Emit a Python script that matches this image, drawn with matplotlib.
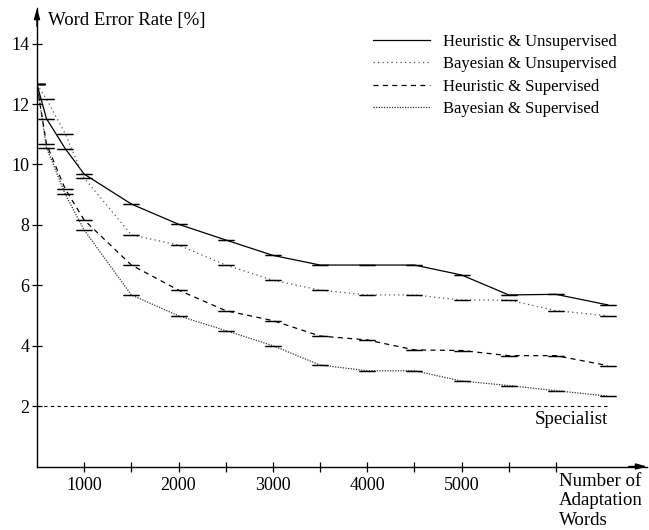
import matplotlib
matplotlib.use("Agg")
import matplotlib.pyplot as plt

plt.rcParams['font.family'] = ['Liberation Serif', 'DejaVu Serif']

words = [500, 600, 800, 1000, 1500, 2000, 2500, 3000, 3500, 4000, 4500, 5000, 5500, 6000, 6550]

heur_unsup = [12.65, 11.52, 10.52, 9.68, 8.69, 8.02, 7.5, 6.99, 6.67, 6.67, 6.67, 6.34, 5.68, 5.70, 5.35]
bayes_unsup = [12.65, 12.17, 11.01, 9.55, 7.67, 7.33, 6.67, 6.17, 5.84, 5.68, 5.68, 5.51, 5.51, 5.16, 4.99]
heur_sup = [12.65, 10.68, 9.18, 8.16, 6.67, 5.84, 5.16, 4.83, 4.32, 4.19, 3.86, 3.84, 3.67, 3.67, 3.34]
bayes_sup = [12.65, 10.56, 9.01, 7.83, 5.68, 4.99, 4.5, 4.0, 3.36, 3.17, 3.17, 2.83, 2.68, 2.51, 2.33]

labels = ["Heuristic & Unsupervised", "Bayesian & Unsupervised",
          "Heuristic & Supervised", "Bayesian & Supervised"]
specialist = 2.0

fig = plt.figure(figsize=(6.49, 5.30), dpi=100)
ax = fig.add_axes([37 / 649, 63.5 / 530, 610 / 649, 458.5 / 530])

styles = [
    dict(color='black', linestyle='-', lw=0.9),
    dict(color='#555555', linestyle=(0, (1, 2.6)), lw=0.9),
    dict(color='black', linestyle=(0, (4, 3.5)), lw=0.9),
    dict(color='#333333', linestyle=(0, (1, 1.1)), lw=0.9),
]
series = [heur_unsup, bayes_unsup, heur_sup, bayes_sup]

handles = []
for ys, st, lab in zip(series, styles, labels):
    ln, = ax.plot(words, ys, label=lab, **st)
    handles.append(ln)
    ax.errorbar(words, ys, yerr=0, fmt='none', ecolor='black', elinewidth=0.8,
                capsize=5.5, capthick=0.9)

ax.plot([words[0], words[-1]], [specialist, specialist], color='black',
        linestyle=(0, (3, 3)), lw=0.8)
ax.text(words[-1], 1.55, "Specialist", ha='right', va='center', fontsize=13.6)

ax.set_xlim(500, 6965)
ax.set_ylim(0, 15.18)

ax.spines['top'].set_visible(False)
ax.spines['right'].set_visible(False)
ax.spines['left'].set_linewidth(1.0)
ax.spines['bottom'].set_linewidth(1.0)

ax.set_xticks([1000, 1500, 2000, 2500, 3000, 3500, 4000, 4500, 5000, 5500, 6000])
ax.set_xticklabels(["1000", "", "2000", "", "3000", "", "4000", "", "5000", "", ""])
ax.set_yticks([2, 4, 6, 8, 10, 12, 14])
ax.tick_params(axis='both', direction='inout', length=7, width=0.9, labelsize=13)
ax.tick_params(axis='x', pad=4)
ax.tick_params(axis='y', pad=2)

# axis arrows
arrow = dict(arrowstyle='-|>,head_length=0.65,head_width=0.18', lw=1.0, color='black',
             shrinkA=0, shrinkB=0)
ax.annotate('', xy=(1, 0), xytext=(0.97, 0), xycoords='axes fraction', arrowprops=arrow)
ax.annotate('', xy=(0, 1), xytext=(0, 0.96), xycoords='axes fraction', arrowprops=arrow)

fig.text(48 / 649, 1 - 20 / 530, "Word Error Rate [%]", ha='left', va='center', fontsize=13.5)
fig.text(559 / 649, 1 - 473 / 530, "Number of\nAdaptation\nWords", ha='left', va='top',
         fontsize=13.6, linespacing=1.18)

ax.legend(handles=handles, loc='upper left', bbox_to_anchor=(373 / 649, 1 - 34 / 530),
          bbox_transform=fig.transFigure, frameon=False, fontsize=12,
          handlelength=3.4, handletextpad=0.8, labelspacing=0.38, borderpad=0,
          borderaxespad=0)

fig.savefig("out.png", dpi=100)
